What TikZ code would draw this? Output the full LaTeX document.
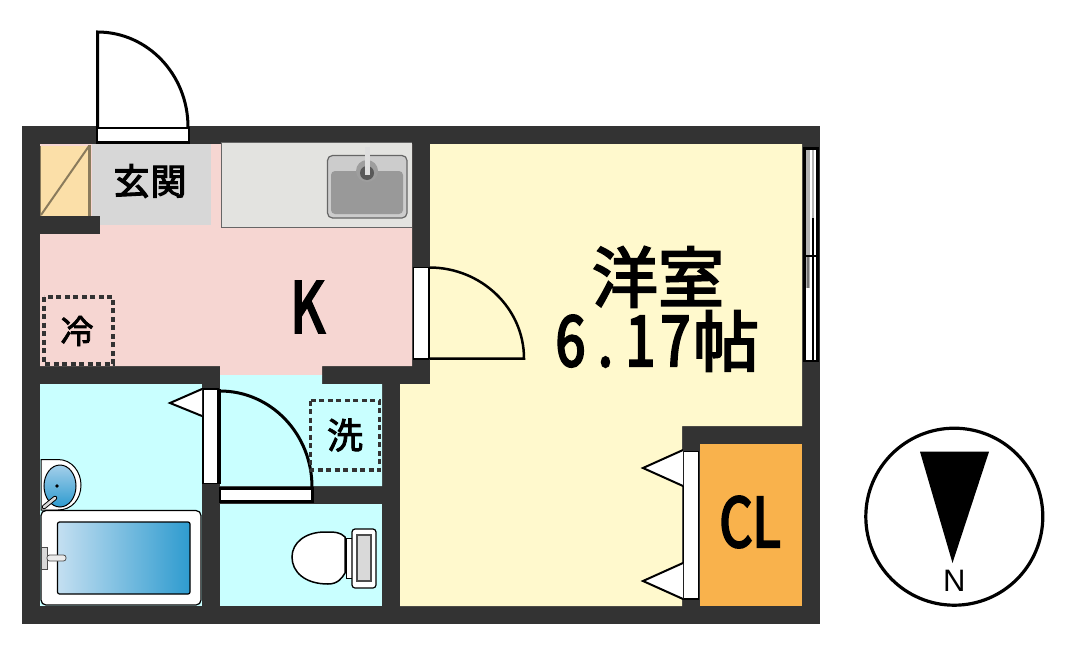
\documentclass[tikz,border=0pt]{standalone}
\usepackage{fontspec}
\setmainfont{Liberation Sans}
\newfontfamily\cjk[FakeBold=3.2]{Noto Sans CJK JP}
\newfontfamily\cjksm[FakeBold=2.4]{Noto Sans CJK JP}
\newfontfamily\cjknar[FakeStretch=0.76,FakeBold=3.4]{Noto Sans CJK JP}
\newcommand{\fsz}[1]{\fontsize{#1}{#1}\selectfont}
\newcommand{\hw}[1]{\makebox[35pt][c]{#1}}
\definecolor{wallc}{HTML}{333333}
\definecolor{pinkc}{HTML}{F6D6D2}
\definecolor{yelc}{HTML}{FFF9CD}
\definecolor{bluec}{HTML}{C9FFFF}
\definecolor{orgc}{HTML}{F9B24C}
\definecolor{grayc}{HTML}{D7D7D7}
\definecolor{cntc}{HTML}{E3E3E0}
\definecolor{shoec}{HTML}{FBDFA8}
\definecolor{tubl}{HTML}{C4DFF1}
\definecolor{tubr}{HTML}{2E9BCF}
\definecolor{bast}{HTML}{A4CFEA}
\tikzset{
  wall/.style={fill=wallc,draw=none},
  room/.style={draw=none},
  leaf/.style={draw=black,line width=3pt,line join=miter},
  frame/.style={draw=black,fill=white,line width=1.2pt},
  framek/.style={draw=black,fill=white,line width=2.5pt},
  tri/.style={draw=black,fill=white,line width=2pt,line join=miter},
  dashbox/.style={draw=wallc,line width=3.2pt,dash pattern=on 5pt off 3.5pt},
  lbl/.style={inner sep=0pt,outer sep=0pt,text=black,align=center}
}
\begin{document}
\begin{tikzpicture}[x=1pt,y=-1pt]
\useasboundingbox (0,0) rectangle (1073,645);
\fill[white] (0,0) rectangle (1073,645);
% walls
\fill[wall] (22,126) rectangle (820,624);
% rooms
\fill[room,yelc] (430,144) -- (802,144) -- (802,426) -- (682,426) -- (682,606) -- (400,606) -- (400,384) -- (430,384) -- cycle;
\fill[room,pinkc] (40,144) -- (412,144) -- (412,366) -- (322,366) -- (322,375) -- (220,375) -- (220,366) -- (40,366) -- cycle;
\fill[room,bluec] (40,384) rectangle (202,606);
\fill[room,bluec] (220,375) -- (322,375) -- (322,384) -- (382,384) -- (382,486) -- (220,486) -- cycle;
\fill[room,bluec] (220,504) rectangle (382,606);
\fill[room,orgc] (700,444) rectangle (802,606);
% entrance
\fill[room,grayc] (92,144) rectangle (211,225);
\fill[shoec] (40,146) rectangle (90,216);
\draw[draw=black!45!shoec,line width=2.5pt] (89.5,145) -- (89.5,216);
\draw[draw=black!45!shoec,line width=2pt] (89,146) -- (41,215);
\draw[draw=black!45!shoec,line width=1.5pt] (40.5,146) -- (40.5,216);
\fill[wall] (40,216) rectangle (100,234);
% counter and sink
\draw[draw=black!60,fill=cntc,line width=1pt] (412,142) -- (221.5,142) -- (221.5,227.5) -- (412,227.5);
\draw[draw=black!60,fill=black!20,line width=1.2pt,rounded corners=5pt] (327.5,155.5) rectangle (407,218);
\fill[black!40,rounded corners=4pt] (331,171) rectangle (403,214);
\fill[black!38] (367,171) circle[radius=11pt];
\fill[black!65] (367,173) circle[radius=7pt];
\fill[black!13] (365,147) rectangle (370,175);
% top door
\draw[leaf,fill=white] (97.5,127) -- (97.5,32) .. controls (147.5,32) and (188,74.5) .. (188,127);
\draw[framek] (97,128) rectangle (189,142.5);
% K door
\draw[leaf,line width=2.5pt] (429.5,267.5) .. controls (481,267.5) and (524,308) .. (524,358.5) -- (429.5,358.5);
\draw[frame] (413.5,267.5) rectangle (428.5,359);
\draw[draw=black,line width=2pt] (429,267) -- (429,359);
% bath door
\draw[leaf] (220,391) .. controls (271,391) and (312,434) .. (312,487);
\draw[frame] (203,389) rectangle (218,483.5);
\draw[draw=black,line width=3pt] (219.5,389) -- (219.5,484);
\draw[framek] (220,488.5) rectangle (312.5,501.5);
\draw[tri] (202,389) -- (170,403) -- (202,416);
% closet doors
\draw[frame] (683.5,451.5) rectangle (698.5,599);
\draw[tri] (683,450) -- (643,468) -- (683,486);
\draw[tri] (683,563) -- (643,581) -- (683,599);
% window
\draw[draw=black,fill=white,line width=2.4pt] (804.5,148.5) rectangle (817.5,361);
\draw[draw=black!30,line width=3.5pt] (808,150) -- (808,288);
\draw[draw=black!55,line width=1.5pt] (808,256) -- (808,288);
\draw[draw=black!30,line width=2pt] (813,150) -- (813,218);
\draw[draw=black,line width=1.8pt] (813,218) -- (813,360);
\draw[draw=black,line width=1.6pt] (804,256) -- (818,256);
% appliances
\draw[dashbox] (44,297) rectangle (113,364);
\draw[dashbox] (310.5,400.5) rectangle (379.5,470);
% basin
\draw[draw=black,fill=white,line width=1pt] (41,459.5) -- (58,459.5) .. controls (72,459.5) and (81,472) .. (81,485) .. controls (81,499) and (72,510) .. (58,510) -- (41,510) -- cycle;
\shade[top color=bast,bottom color=tubr,draw=black,line width=1pt] (60,486) ellipse[x radius=16pt,y radius=21pt];
\fill[black] (57,486) circle[radius=1.8pt];
\draw[draw=black,line width=4.5pt,line cap=round] (44,507) -- (55,498);
\draw[draw=white!85!black,line width=2.6pt,line cap=round] (44,507) -- (55,498);
% bathtub
\draw[draw=black,fill=white,line width=1.2pt,rounded corners=5pt] (41,510.5) rectangle (201,605);
\shade[left color=tubl,right color=tubr,draw=black,line width=1.2pt,rounded corners=2pt] (57.5,522) rectangle (190,594);
\draw[draw=black!70,fill=black!15,line width=.8pt] (41,547) rectangle (47,569);
\draw[draw=black!70,fill=black!8,line width=.8pt,rounded corners=2.5pt] (47,555) rectangle (66,561);
% toilet
\draw[draw=black,fill=white,line width=1pt] (346,538) rectangle (353,578);
\draw[draw=black,fill=white,line width=1.5pt] (345,537) .. controls (340,532) and (335,532) .. (325,532) .. controls (305,532) and (292,543) .. (292,557) .. controls (292,572) and (305,584) .. (328,584) .. controls (338,584) and (342,578) .. (345,573) -- cycle;
\draw[draw=black,fill=white,line width=1.2pt,rounded corners=3pt] (352,529) rectangle (376,588);
\draw[draw=black!70,fill=black!15,line width=1.8pt] (357,535) rectangle (371,581);
% compass
\draw[draw=black,fill=white,line width=3.2pt] (954.3,516.7) circle[radius=88.5pt];
\fill[black] (920,451.7) -- (989,451.7) -- (952.5,563) -- cycle;
% labels
\node[lbl] (nn) at (954.3,581) {\fsz{31}N};
\node[lbl,font=\cjk] (genkan) at (150,181) {\fsz{36}玄\hspace{1pt}関};
\node[lbl,font=\cjknar] (kk) at (307.5,307) {\fsz{70}K};
\node[lbl,font=\cjksm] (rei) at (77,331) {\fsz{33}冷};
\node[lbl,font=\cjksm] (sen) at (345,435) {\fsz{36}洗};
\node[lbl,font=\cjk] (yoshitsu) at (658,277) {\fsz{66}洋室};
\node[lbl,font=\cjknar,anchor=base west] (size) at (553,366) {\fsz{70}\hw{6}\hw{.}\hw{1}\hw{7}{\cjk\fsz{66}帖}};
\node[lbl,font=\cjknar] (cl) at (750,522) {\fsz{68}CL};
\end{tikzpicture}
\end{document}
